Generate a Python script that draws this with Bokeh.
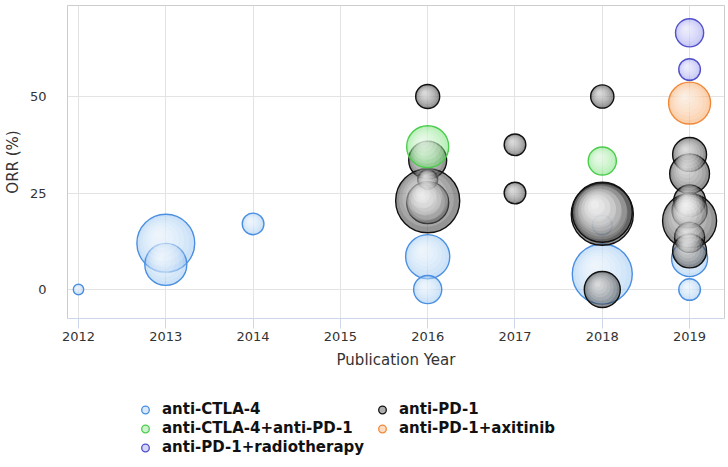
import numpy as np
from bokeh.plotting import figure
from bokeh.layouts import column
from bokeh.models import ColumnDataSource, FixedTicker, Legend, LegendItem
from bokeh.embed import file_html
from bokeh.resources import INLINE

# ---------------- data ----------------
ctla4_year = [2012, 2013, 2013, 2014, 2016, 2016, 2018, 2018, 2019, 2019]
ctla4_orr = [0, 12, 6.5, 17, 8.5, 0, 4, 16.7, 8, 0]
ctla4_n = [3, 93, 49, 13, 54, 22, 100, 11, 36, 13]

pd1_year = [2016, 2016, 2016, 2016, 2016, 2017, 2017, 2018, 2018, 2018, 2018,
            2019, 2019, 2019, 2019, 2019, 2019, 2019]
pd1_orr = [50, 33.5, 28.5, 23, 22.5, 37.5, 25, 50, 19.5, 20, 0,
           35, 30, 23, 20.5, 17.8, 13.5, 10]
pd1_n = [16, 40, 11, 114, 49, 13, 13, 15, 107, 100, 36,
         32, 44, 28, 34, 81, 25, 32]

combo_year = [2016, 2018]
combo_orr = [37, 33.3]
combo_n = [49, 22]

axi_year = [2019]
axi_orr = [48.3]
axi_n = [49]

rt_year = [2019, 2019]
rt_orr = [66.5, 57]
rt_n = [22, 13]

year_ticks = [2012, 2013, 2014, 2015, 2016, 2017, 2018, 2019]
orr_ticks = [0, 25, 50]

# ---------------- figure ----------------
X0, X1 = 2011.874, 2019.40
Y0, Y1 = -7.51, 73.58
FW, FH = 657, 313
px_x = FW / (X1 - X0)
px_y = FH / (Y1 - Y0)

p = figure(frame_width=FW, frame_height=FH, x_range=(X0, X1), y_range=(Y0, Y1),
           output_backend="svg", toolbar_location=None,
           min_border_left=67, min_border_right=4, min_border_top=5,
           min_border_bottom=62)
p.outline_line_color = "#cccccc"
p.outline_line_width = 1
p.background_fill_color = "white"
p.border_fill_color = "white"

FONT = "DejaVu Sans"
# x axis
p.xaxis.ticker = FixedTicker(ticks=year_ticks)
p.xaxis.axis_label = "Publication Year"
p.xaxis.axis_line_color = "#ccd6eb"
p.xaxis.major_tick_line_color = "#ccd6eb"
p.xaxis.major_tick_out = 10
p.xaxis.major_tick_in = 0
p.xaxis.minor_tick_line_color = None
p.xaxis.major_label_standoff = 3
p.xaxis.axis_label_standoff = 7
# y axis
p.yaxis.ticker = FixedTicker(ticks=orr_ticks)
p.yaxis.axis_label = "ORR (%)"
p.yaxis.axis_line_color = None
p.yaxis.major_tick_line_color = None
p.yaxis.minor_tick_line_color = None
p.yaxis.major_label_standoff = 15
p.yaxis.axis_label_standoff = 5
for ax in (p.xaxis, p.yaxis):
    ax.major_label_text_font = FONT
    ax.major_label_text_font_size = "13px"
    ax.major_label_text_color = "#333333"
    ax.axis_label_text_font = FONT
    ax.axis_label_text_font_size = "15px"
    ax.axis_label_text_font_style = "normal"
    ax.axis_label_text_color = "#333333"

p.xgrid.ticker = FixedTicker(ticks=year_ticks)
p.ygrid.ticker = FixedTicker(ticks=orr_ticks)
p.grid.grid_line_color = "#e3e3e3"
p.grid.grid_line_width = 1

# ---------------- bubbles ----------------
series = [
    # label, years, orr, n, fill, fill_alpha, line
    ("anti-CTLA-4", ctla4_year, ctla4_orr, ctla4_n, "#8fbff0", 0.45, "#4a8fe0"),
    ("anti-PD-1", pd1_year, pd1_orr, pd1_n, "#3c3c3c", 0.55, "#111111"),
    ("anti-CTLA-4+anti-PD-1", combo_year, combo_orr, combo_n, "#66dd66", 0.45, "#4ccc4c"),
    ("anti-PD-1+axitinib", axi_year, axi_orr, axi_n, "#f7a35c", 0.50, "#f0883a"),
    ("anti-PD-1+radiotherapy", rt_year, rt_orr, rt_n, "#7777ee", 0.40, "#5050c8"),
]

# legend figure (below the chart)
LH = 87
p2 = figure(frame_width=728, frame_height=LH, x_range=(0, 1), y_range=(0, 1),
            x_axis_type=None, y_axis_type=None, output_backend="svg",
            toolbar_location=None, min_border=0)
p2.outline_line_color = None
p2.grid.visible = False
p2.background_fill_color = "white"
p2.border_fill_color = "white"

legend_renderers = {}
NL = 6
for label, yrs, orr, n, fill, falpha, line in series:
    yrs = np.asarray(yrs, dtype=float)
    orr = np.asarray(orr, dtype=float)
    r = 3.0 * np.sqrt(np.asarray(n, dtype=float))
    src = ColumnDataSource(dict(x=yrs, y=orr, r=r))
    p.circle(x="x", y="y", radius="r", radius_units="screen", source=src,
             fill_color=fill, fill_alpha=falpha, line_color=line, line_width=1.4)
    for k in range(1, NL + 1):
        f = k / (NL + 1)
        hx = yrs - (0.28 * r * f) / px_x
        hy = orr + (0.32 * r * f) / px_y
        hr = r * (1 - f)
        hsrc = ColumnDataSource(dict(x=hx, y=hy, r=hr))
        p.circle(x="x", y="y", radius="r", radius_units="screen", source=hsrc,
                 fill_color="white", fill_alpha=0.17, line_color=None)
    # legend-only renderer: a non-drawn (NaN) point so the legend swatch renders
    lsrc = ColumnDataSource(dict(x=[np.nan], y=[np.nan]))
    legend_renderers[label] = p2.circle(x="x", y="y", radius=7.8, radius_units="screen",
                                        source=lsrc, fill_color=fill,
                                        fill_alpha=falpha * 0.75, line_color=line,
                                        line_width=1.3)

order = ["anti-CTLA-4", "anti-CTLA-4+anti-PD-1", "anti-PD-1+radiotherapy",
         "anti-PD-1", "anti-PD-1+axitinib"]
legend = Legend(items=[LegendItem(label=lab, renderers=[legend_renderers[lab]]) for lab in order],
                location=(135, 10.5), orientation="vertical", nrows=3)
legend.label_text_font = FONT
legend.label_text_font_style = "bold"
legend.label_text_font_size = "15px"
legend.label_text_color = "#111111"
legend.glyph_width = 20
legend.glyph_height = 19
legend.label_standoff = 7
legend.label_width = 210
legend.label_height = 19
legend.spacing = 0
legend.padding = 0
legend.margin = 0
legend.border_line_color = None
legend.background_fill_alpha = 0
p2.add_layout(legend)

open("out.html", "w").write(file_html(column(p, p2), INLINE))
